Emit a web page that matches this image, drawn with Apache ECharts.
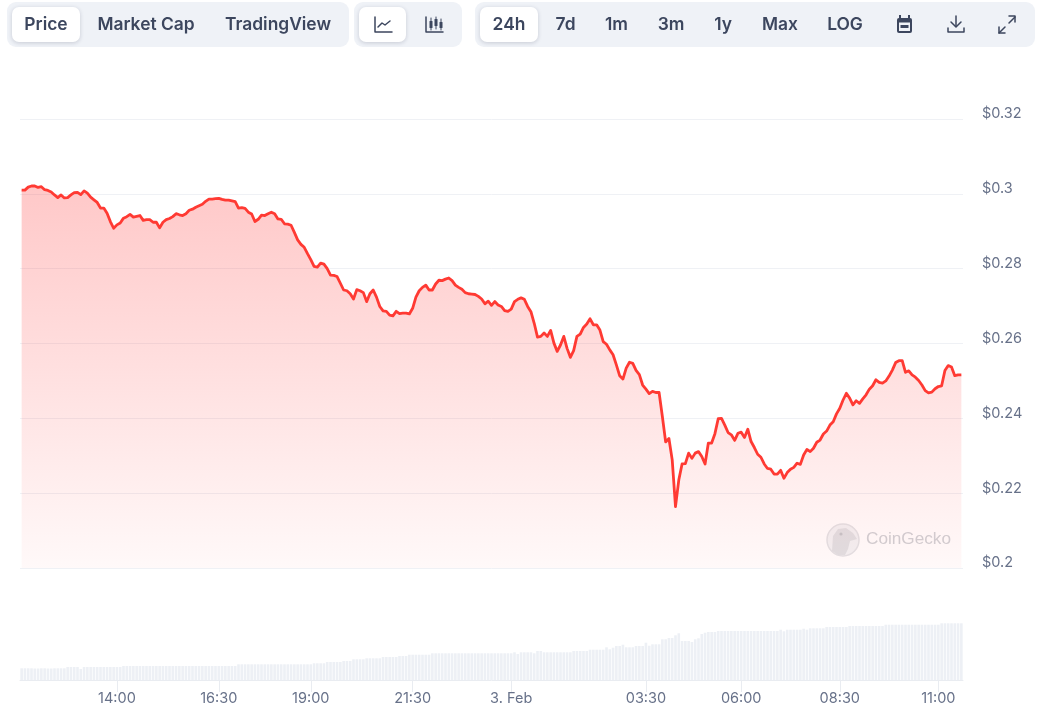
<!DOCTYPE html>
<html><head><meta charset="utf-8">
<style>html,body{margin:0;padding:0;background:#fff}#c{width:1040px;height:722px}</style>
<script src="https://cdn.jsdelivr.net/npm/echarts@6/dist/echarts.min.js"></script>
</head><body><div id="c"></div>
<script>
const priceA=[.3010,.3010,.3018,.3021,.3021,.3017,.3019,.3011,.3009,.3005,.2997,.2990,.2997,.2989,.2990,.2997,.3003,.3004,.2998,.3008,.3002,.2991,.2984,.2977,.2962,.2962,.2948,.2926,.2908,.2917,.2922,.2935,.2939,.2945,.2938,.2940,.2942,.2929,.2931,.2931,.2924,.2924,.2909,.2924,.2931,.2934,.2939,.2947,.2944,.2942,.2947,.2956,.2959,.2964,.2968,.2972,.2980,.2986,.2986,.2987,.2988,.2985,.2983,.2983,.2981,.2979,.2962,.2963,.2961,.2951,.2946,.2926,.2932];
const priceB=[.2943,.2942,.2947,.2951,.2947,.2933,.2932,.2920,.2919,.2916,.2897,.2877,.2865,.2857,.2840,.2824,.2806,.2804,.2815,.2812,.2800,.2783,.2782,.2779,.2761,.2743,.2741,.2733,.2719,.2744,.2741,.2736,.2712,.2733,.2743,.2724,.2699,.2687,.2686,.2676,.2674,.2686,.2680,.2681,.2681,.2679,.2694,.2724,.2741,.2750,.2756,.2743,.2743,.2759,.2769,.2768,.2772,.2775,.2768,.2756,.2750,.2745,.2736,.2733,.2732,.2731,.2726,.2719,.2706,.2713,.2702,.2712,.2703];
const priceC=[.2699,.2688,.2686,.2692,.2712,.2718,.2722,.2718,.2699,.2685,.2654,.2617,.2619,.2628,.2619,.2635,.2601,.2579,.2596,.2619,.2587,.2563,.2581,.2619,.2625,.2643,.2652,.2666,.2650,.2650,.2636,.2605,.2598,.2583,.2570,.2543,.2514,.2505,.2534,.2550,.2547,.2528,.2517,.2489,.2478,.2466,.2472,.2469,.2469,.2405,.2337,.2346,.2289,.2164,.2235,.2278,.2279,.2307,.2293,.2307,.2311,.2298,.2278,.2334,.2334,.2359,.2399];
const priceD=[.2400,.2382,.2362,.2356,.2341,.2360,.2363,.2349,.2371,.2338,.2322,.2304,.2296,.2278,.2266,.2264,.2251,.2251,.2261,.2240,.2255,.2264,.2269,.2280,.2277,.2302,.2317,.2311,.2320,.2336,.2342,.2358,.2366,.2382,.2391,.2412,.2427,.2449,.2467,.2454,.2436,.2447,.2440,.2452,.2463,.2478,.2487,.2503,.2496,.2494,.2500,.2513,.2529,.2549,.2554,.2554,.2523,.2527,.2516,.2510,.2501,.2489,.2474,.2468,.2470,.2479,.2485,.2487,.2528,.2541,.2537,.2514,.2516,.2516];
const prices=[...priceA,...priceB,...priceC,...priceD];
const volumeA=[11.7,11.7,11.7,11.7,11.5,11.5,11.7,11.7,11.5,11.5,11.7,11.7,11.7,11.7,13,13,13,13,11,13,13,13,13,13,13,13,13,13,13,13,13,14,14,14,14,14,14,14,14,14,14,14,14,14,14,14,14,14,14,14,14,14,14,14,14,14,14,14,14,14,14,14,14,14,14,14,15.7,15.7,15.7,15.7,15.7,15.7,15.7,15.7,15.7,15.7,15.7,15.7,15.7,15.7,15.7,15.7,15.7,15.7,15.7,15.7,15.7,15.7,15.7,16.7,16.7,16.7,16.7,18,18,18,18,18,19,19,19,20.7,20.7,20.7,20.7,21.7,21.7,21.7,21.7,21.7,23,23,23,23,23,24,24,24,25.3,25.3,25.3,25.3,25.3,25.3,25.3];
const volumeB=[26.7,26.7,26.7,26.7,26.7,26.7,26.7,26.7,26.7,26.7,26.7,26.7,26.7,26.7,26.7,26.7,26.7,26.7,26.7,26.7,26.7,26.7,26.7,26.7,26.7,27.7,26,27.7,27.7,27.7,27.7,26.7,29,29,27.7,27.7,27.7,27.7,27.7,27.7,27.7,27.7,27.7,29,29,29,29,29,30.3,30.3,30.3,30.3,30.3,32.7,30.7,32.3,34,34,35.3,32.7,32.7,32.7,34,34,34,37.3,34.3,35.7,35.7,35.7,40.7,40.7,42,42,44.7,46.7,39,39,39,38,40.7,41.7,46,47.3,48,48,48];
const volumeC=[49,49,49,49,49,49,49,49,49,49,49,49,49,49,49,49,49,49,49,50.3,48.7,50.3,50.3,50.3,50.3,50.3,51.3,50.3,51.7,51.7,51.7,51.7,51.7,53,53,53,53,53,53,53,54,54,54,54,54,54,54,54,54,54,54,55.3,55.3,55.3,55.3,55.3,55.3,55.3,55.3,55.3,55.3,55.3,55.3,55.3,55.3,55.3,55.3,55.3,56.7,56.7,56.7,56.7,56.7,56.7,56.7];
const volumes=[...volumeA,...volumeB,...volumeC];
const categories=prices.map((_,i)=>{const m=695+i*5;return String(Math.floor(m/60)%24).padStart(2,'0')+':'+String(m%60).padStart(2,'0');});
const xTickIndex=[29,60,88,119,149,190,219,249,279];
const xTickLabels=['14:00','16:30','19:00','21:30','3. Feb','03:30','06:00','08:30','11:00'];
const yTickValues=[0.2,0.22,0.24,0.26,0.28,0.3,0.32];
const yTickLabels=['$0.2','$0.22','$0.24','$0.26','$0.28','$0.3','$0.32'];
const chartTabs=['Price','Market Cap','TradingView'];
const rangeTabs=['24h','7d','1m','3m','1y','Max','LOG'];
const tabX=[46,146,278];
const rangeX=[509,565.5,616.5,671,723,780,845];

const ink='#3c465e';
const font='Inter, "Noto Sans", sans-serif';
const box=(x,y,w,h,r,fill,shadow)=>({type:'rect',shape:{x,y,width:w,height:h,r},style:Object.assign({fill},shadow?{shadowBlur:4,shadowOffsetY:1,shadowColor:'rgba(20,30,60,.18)'}:{}),silent:true});
const label=(t,x)=>({type:'text',x,y:25,style:{text:t,fill:ink,font:'600 17.4px '+font,textAlign:'center',textVerticalAlign:'middle'},silent:true});
const pl=(points,w)=>({type:'polyline',shape:{points},style:{fill:null,stroke:ink,lineWidth:w||1.5,lineJoin:'round',lineCap:'round'},silent:true});

const graphics=[
 box(7,2,342,45,9,'#eff2f7'),box(354,2,108,45,9,'#eff2f7'),box(475,2,560,45,9,'#eff2f7'),
 box(12,7,68,35,7,'#fff',true),box(359,7,47,35,7,'#fff',true),box(480,7,58,35,7,'#fff',true),
 ...chartTabs.map((t,i)=>label(t,tabX[i])),
 ...rangeTabs.map((t,i)=>label(t,rangeX[i])),
 pl([[375,17],[375,32],[392,32]]),pl([[378,27],[382,23],[385,25],[390,21]]),
 pl([[426,17],[426,32],[443,32]]),
 box(429.5,21,3,7,.5,ink),box(434.5,19,3,7,.5,ink),box(439.5,22,3,6,.5,ink),
 pl([[431,18],[431,30]],1),pl([[436,17],[436,29]],1),pl([[441,19],[441,30]],1),
 box(897,18,15,15,2,ink),box(899,22.5,11,8.5,0,'#eff2f7'),box(900.5,25,8,3,0,ink),box(899,15,2,4,0,ink),box(908,15,2,4,0,ink),
 pl([[956,16],[956,26]]),pl([[951,22],[956,27],[961,22]]),pl([[948,28],[948,32],[964,32],[964,28]]),
 pl([[1009,23],[1015,17]]),pl([[1009,16],[1015,16],[1015,22]]),pl([[999,33],[1005,27]]),pl([[999,27],[999,33],[1005,33]]),
 {type:'circle',shape:{cx:843,cy:540,r:16},style:{fill:'rgba(238,239,241,.75)',stroke:'#e2e3e6',lineWidth:1.5},silent:true},
 {type:'polygon',shape:{points:[[832,551],[833,536],[838,529],[846,528],[853,533],[857,539],[850,541],[848,549],[845,555],[838,555]]},style:{fill:'#e0e1e4'},silent:true},
 {type:'circle',shape:{cx:841,cy:534,r:1.6},style:{fill:'#c4c6ca'},silent:true},
 {type:'text',x:866,y:539,style:{text:'CoinGecko',fill:'#d0d2d6',font:'17.2px "Liberation Sans", Inter, sans-serif',textVerticalAlign:'middle'},silent:true}
];

const chart=echarts.init(document.getElementById('c'),null,{renderer:'canvas',width:1040,height:722});
chart.setOption({
 animation:false,
 backgroundColor:'#fff',
 textStyle:{fontFamily:font},
 grid:[{left:20,right:77,top:119,height:449,containLabel:false},{left:20,right:77,top:620,height:60}],
 xAxis:[
  {type:'category',gridIndex:0,data:categories,show:false,boundaryGap:true},
  {type:'category',gridIndex:1,data:categories,boundaryGap:true,
   axisLine:{show:true,lineStyle:{color:'#e9ecf1',width:1}},
   axisTick:{show:true,alignWithLabel:true,length:12,lineStyle:{color:'#e9ecf1'},interval:(i)=>xTickIndex.includes(i)},
   axisLabel:{show:true,color:'#677189',fontSize:14.5,fontFamily:font,margin:11,hideOverlap:false,
     interval:(i)=>xTickIndex.includes(i),
     formatter:(v,i)=>xTickLabels[xTickIndex.indexOf(i)]||''}}
 ],
 yAxis:[
  {type:'value',gridIndex:0,position:'right',min:0.2,max:0.32,interval:0.02,
   axisLine:{show:false},axisTick:{show:false},
   splitLine:{show:true,lineStyle:{color:'#eff1f5',width:1}},
   axisLabel:{color:'#677189',fontSize:14.5,fontFamily:font,margin:19,align:'left',verticalAlign:'bottom',lineHeight:10,
     formatter:(v)=>yTickLabels[yTickValues.findIndex(t=>Math.abs(t-v)<1e-6)]}},
  {type:'value',gridIndex:1,min:0,max:60,show:false,splitLine:{show:false}}
 ],
 series:[
  {type:'bar',name:'Volume',xAxisIndex:1,yAxisIndex:1,data:volumes,barWidth:2.6,silent:true,itemStyle:{color:'#edf0f5'}},
  {type:'line',name:'Price',xAxisIndex:0,yAxisIndex:0,data:prices,showSymbol:false,smooth:false,silent:true,
   lineStyle:{color:'#ff3a33',width:2.8,join:'round'},
   areaStyle:{origin:'start',opacity:1,color:new echarts.graphic.LinearGradient(0,0,0,1,[{offset:0,color:'rgba(255,58,58,.28)'},{offset:1,color:'rgba(255,58,58,.03)'}])}}
 ],
 graphic:{elements:graphics}
});
</script></body></html>
